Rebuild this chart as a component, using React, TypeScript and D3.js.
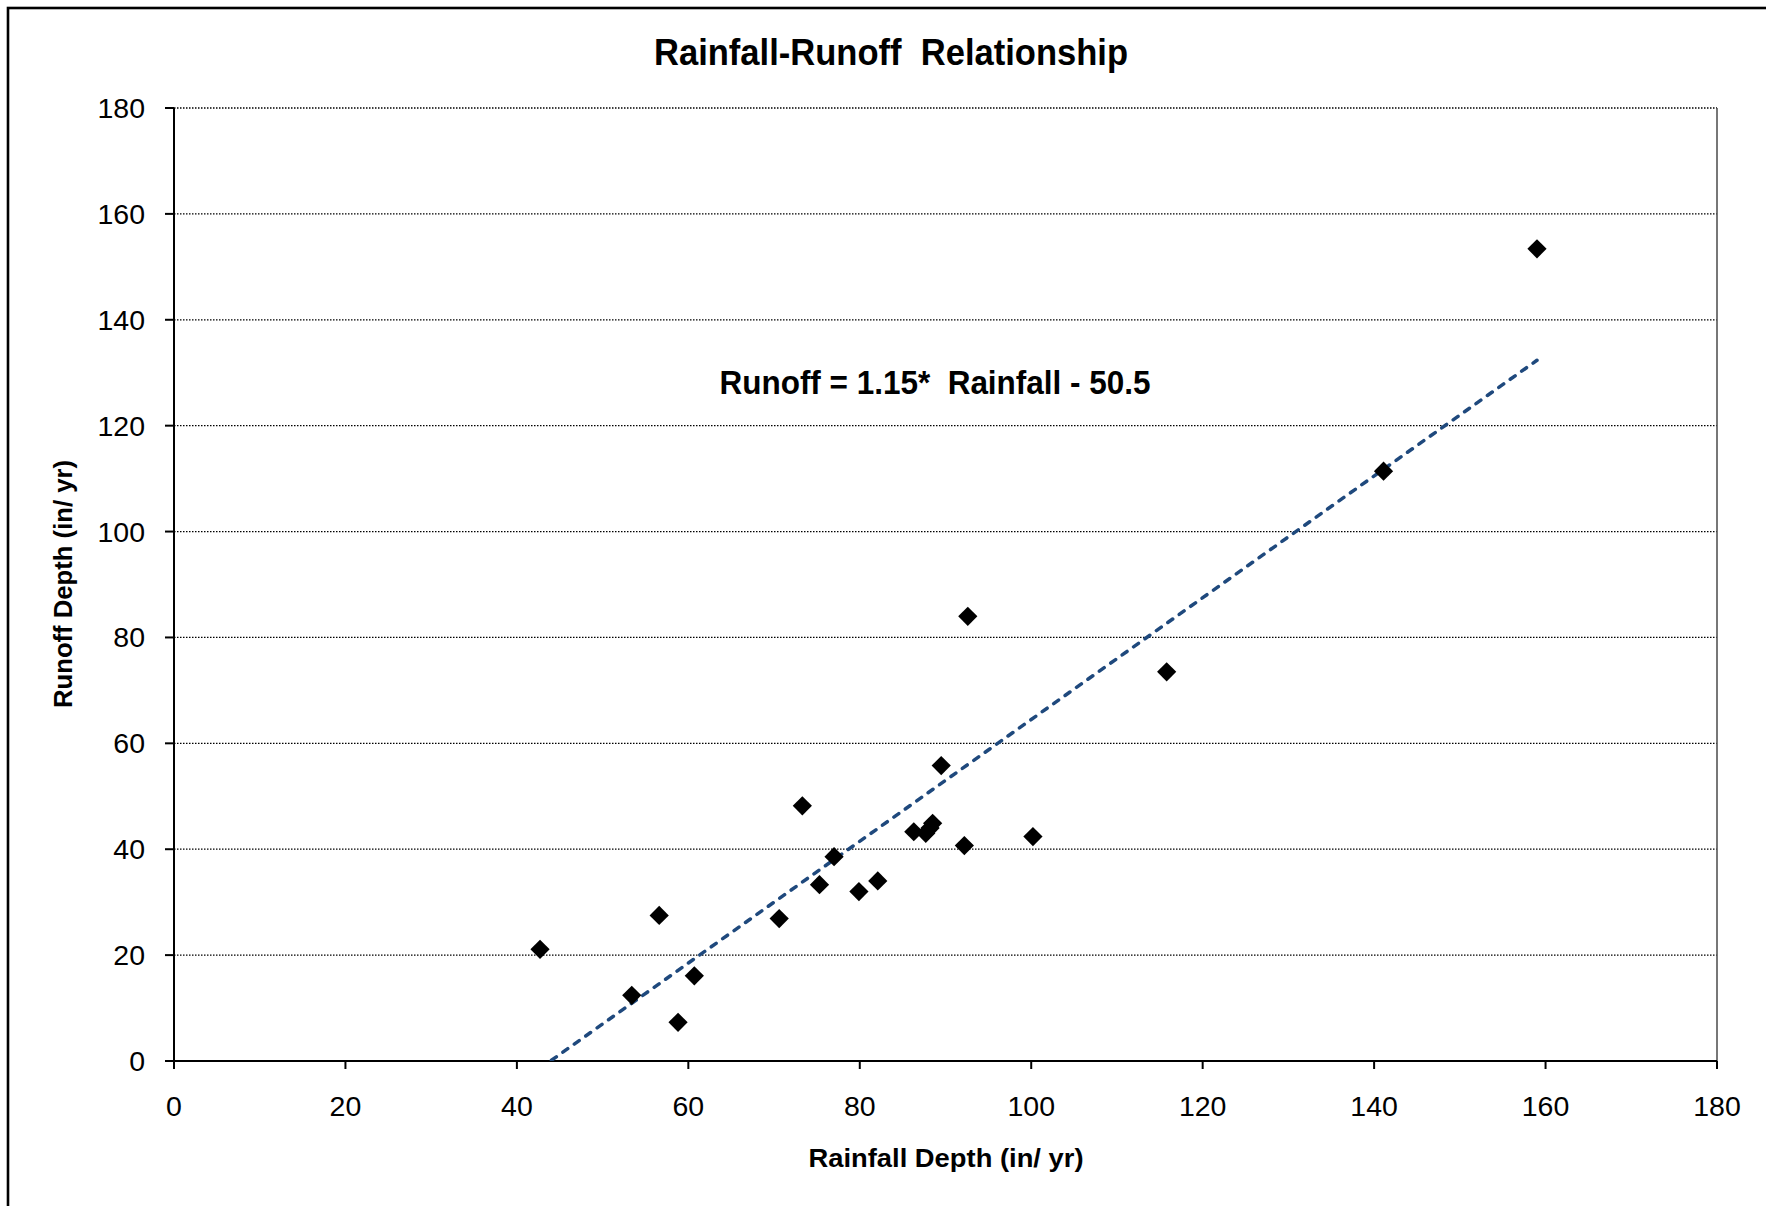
import * as d3 from 'd3';

// observed annual rainfall vs runoff depth (in/yr)
const rainfall = [42.7, 53.4, 56.6, 58.8, 60.7, 70.6, 73.3, 75.3, 77.0, 79.9, 82.1, 86.3, 87.7, 88.2, 88.5, 89.5, 92.2, 92.6, 100.2, 115.8, 141.1, 159.0];
const runoff = [21.1, 12.4, 27.5, 7.3, 16.1, 26.9, 48.2, 33.3, 38.6, 32.0, 34.0, 43.3, 43.0, 44.0, 44.9, 55.8, 40.7, 84.0, 42.4, 73.5, 111.4, 153.4];

// fitted trend line
const slope = 1.15;
const intercept = -50.5;

const xTicks = [0, 20, 40, 60, 80, 100, 120, 140, 160, 180];
const yTicks = [0, 20, 40, 60, 80, 100, 120, 140, 160, 180];

const W = 1766;
const H = 1206;
const plot = { left: 174, right: 1717, top: 108, bottom: 1061 };
const font = '"Liberation Sans", Arial, sans-serif';

export default function App() {
  const x = d3.scaleLinear().domain([0, 180]).range([plot.left, plot.right]);
  const y = d3.scaleLinear().domain([0, 180]).range([plot.bottom, plot.top]);

  const points = rainfall.map((r, i) => ({ r, q: runoff[i] }));
  const xExt = d3.extent(rainfall) as [number, number];
  const trend = d3.line<number>()
    .x(d => x(d))
    .y(d => y(slope * d + intercept))(xExt);

  const marker = d3.symbol(d3.symbolSquare, 185)();

  return (
    <svg width={W} height={H} style={{ position: 'absolute', left: 0, top: 0, background: '#fff' }}>
      <defs>
        <clipPath id="plot-clip">
          <rect x={plot.left} y={plot.top} width={plot.right - plot.left} height={plot.bottom - plot.top} />
        </clipPath>
      </defs>

      {/* outer chart border */}
      <rect x={8} y={8} width={W} height={H} fill="#fff" stroke="#000" strokeWidth={2.6} />

      <text x={891} y={65} textAnchor="middle" fontFamily={font} fontWeight="bold" fontSize={37}
        textLength={474} lengthAdjust="spacingAndGlyphs" style={{ whiteSpace: 'pre' }}>
        {'Rainfall-Runoff  Relationship'}
      </text>

      {/* gridlines */}
      {yTicks.filter(t => t > 0).map(t => (
        <line key={'g' + t} x1={plot.left} x2={plot.right} y1={y(t)} y2={y(t)}
          stroke="#000" strokeWidth={1.3} strokeDasharray="1.5 1.5" />
      ))}

      {/* right edge of plot */}
      <line x1={plot.right} x2={plot.right} y1={plot.top} y2={plot.bottom} stroke="#555" strokeWidth={1.6} />

      {/* axes */}
      <line x1={plot.left} x2={plot.left} y1={plot.top} y2={plot.bottom + 8} stroke="#000" strokeWidth={2} />
      <line x1={plot.left - 9} x2={plot.right} y1={plot.bottom} y2={plot.bottom} stroke="#000" strokeWidth={2} />

      {yTicks.map(t => (
        <g key={'y' + t}>
          <line x1={plot.left - 9} x2={plot.left} y1={y(t)} y2={y(t)} stroke="#000" strokeWidth={2} />
          <text x={145} y={y(t)} dy="0.35em" textAnchor="end" fontFamily={font} fontSize={28.5}>{t}</text>
        </g>
      ))}
      {xTicks.map(t => (
        <g key={'x' + t}>
          <line x1={x(t)} x2={x(t)} y1={plot.bottom} y2={plot.bottom + 8} stroke="#000" strokeWidth={2} />
          <text x={x(t)} y={1116} textAnchor="middle" fontFamily={font} fontSize={28.5}>{t}</text>
        </g>
      ))}

      {/* trend line */}
      <g clipPath="url(#plot-clip)">
        <path d={trend ?? ''} fill="none" stroke="#1F497D" strokeWidth={3.5}
          strokeDasharray="6 8" strokeLinecap="round" />
      </g>

      {points.map((p, i) => (
        <path key={i} d={marker ?? ''} fill="#000"
          transform={`translate(${x(p.r)},${y(p.q)}) rotate(45)`} />
      ))}

      <text x={935} y={394} textAnchor="middle" fontFamily={font} fontWeight="bold" fontSize={34}
        textLength={431} lengthAdjust="spacingAndGlyphs" style={{ whiteSpace: 'pre' }}>
        {'Runoff = 1.15*  Rainfall - 50.5'}
      </text>

      <text x={946} y={1167} textAnchor="middle" fontFamily={font} fontWeight="bold" fontSize={26}
        textLength={275} lengthAdjust="spacingAndGlyphs">
        Rainfall Depth (in/ yr)
      </text>
      <text transform="translate(72,584) rotate(-90)" textAnchor="middle" fontFamily={font} fontWeight="bold"
        fontSize={26} textLength={248} lengthAdjust="spacingAndGlyphs">
        Runoff Depth (in/ yr)
      </text>
    </svg>
  );
}
